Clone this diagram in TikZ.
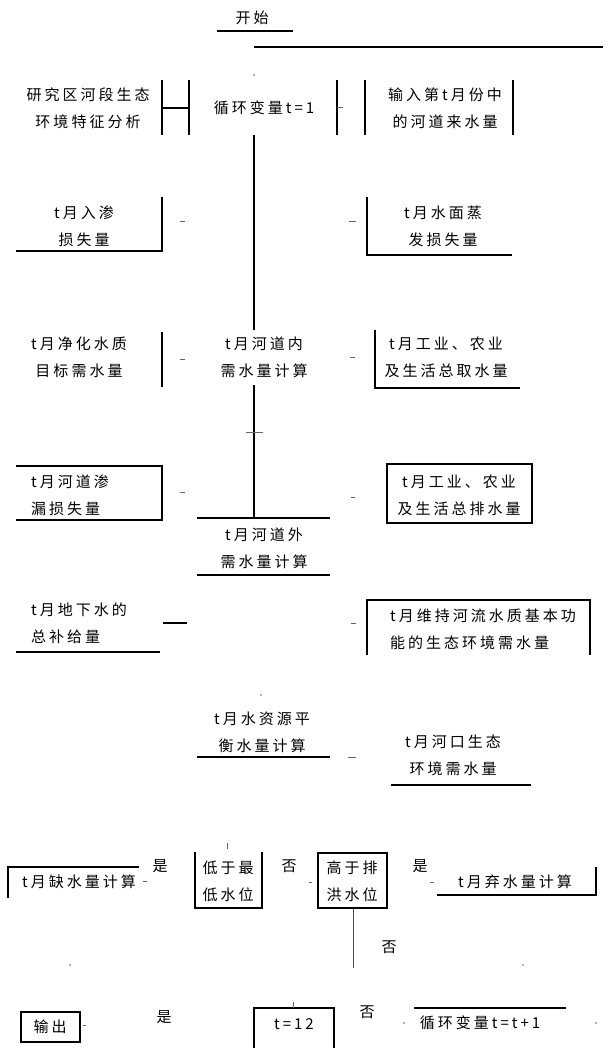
\documentclass[tikz,border=0pt]{standalone}
\usepackage{fontspec}
\setmainfont{Noto Sans CJK SC}
\newfontfamily\cjkfont[LetterSpace=20]{Noto Sans CJK SC}
\begin{document}
\begin{tikzpicture}[x=1pt,y=-1pt,
  txt/.style={inner sep=0pt,align=center,font=\cjkfont\fontsize{15}{27}\selectfont},
  txtl/.style={txt,align=left},
  lbl/.style={inner sep=0pt,font=\cjkfont\fontsize{15}{18}\selectfont},
  edge/.style={line width=1.4pt,black},
  thinline/.style={line width=0.9pt,black!70},
  tick/.style={line width=1pt,black!60}]
\useasboundingbox (0,0) rectangle (612,1048);

% ---------- texts ----------
\node[txt] (start) at (252,18) {开始};
\node[txt] (n1L) at (88,108) {研究区河段生态\\环境特征分析};
\node[txt] (n1C) at (264,108) {循环变量t=1};
\node[txt] (n1R) at (445,108) {输入第t月份中\\的河道来水量};
\node[txt] (n2L) at (84,226) {t月入渗\\损失量};
\node[txt] (n2R) at (443,226) {t月水面蒸\\发损失量};
\node[txt] (n3L) at (79,357) {t月净化水质\\目标需水量};
\node[txt] (n3C) at (264,357) {t月河道内\\需水量计算};
\node[txt] (n3R) at (446,357) {t月工业、农业\\及生活总取水量};
\node[txtl,anchor=west] (n4L) at (31,495) {t月河道渗\\漏损失量};
\node[txt] (n4C) at (264,548) {t月河道外\\需水量计算};
\node[txt] (n4R) at (459,495) {t月工业、农业\\及生活总排水量};
\node[txtl,anchor=west] (n5L) at (31,623) {t月地下水的\\总补给量};
\node[txtl,anchor=west] (n5R) at (390,629) {t月维持河流水质基本功\\能的生态环境需水量};
\node[txt] (n6C) at (262,732) {t月水资源平\\衡水量计算};
\node[txt] (n6R) at (453,755) {t月河口生态\\环境需水量};
\node[txt] (n7a) at (79,882) {t月缺水量计算};
\node[lbl] (yes1) at (160,866) {是};
\node[txt] (n7b) at (228,881) {低于最\\低水位};
\node[lbl] (no1) at (289,866) {否};
\node[txt] (n7c) at (352,881) {高于排\\洪水位};
\node[lbl] (yes2) at (420,866) {是};
\node[txt] (n7d) at (515,882) {t月弃水量计算};
\node[lbl] (no2) at (389,947) {否};
\node[txt] (out) at (50,1027) {输出};
\node[lbl] (yes3) at (164,1017) {是};
\node[txt] (n8b) at (294,1024) {t=12};
\node[lbl] (no3) at (367,1012) {否};
\node[txt] (n8c) at (480,1023) {循环变量t=t+1};

% ---------- trunk connectors ----------
\coordinate (t0) at (254,135);
\coordinate (t1) at (254,330);
\coordinate (t2) at (254,385);
\coordinate (t3) at (254,518);
\draw[edge] (t0) -- (t1);
\draw[edge] (t2) -- (t3);
\coordinate (d0) at (353,908);
\coordinate (d1) at (353,968);
\draw[thinline] (d0) -- (d1);

% ---------- top ----------
\draw[edge] (217,31) -- (293,31);
\draw[edge] (254,47) -- (603,47);
\fill[black!60] (254,75) circle (0.8);

% ---------- row 1 ----------
\draw[edge] (162,80) -- (162,135);
\draw[edge] (189,80) -- (189,135);
\draw[edge] (162,108) -- (189,108);
\draw[edge] (337,80) -- (337,135);
\draw[tick] (337,108) -- (343,108);
\draw[edge] (365,80) -- (365,135);
\draw[edge] (513,80) -- (513,135);

% ---------- row 2 ----------
\draw[edge] (16,251) -- (162,251) -- (162,197);
\draw[tick] (180,222) -- (185,222);
\draw[tick] (349,222) -- (356,222);
\draw[edge] (367,197) -- (367,255) -- (512,255);

% ---------- row 3 ----------
\draw[edge] (162,332) -- (162,387);
\draw[tick] (180,359) -- (185,359);
\draw[tick] (350,357) -- (355,357);
\draw[edge] (375,330) -- (375,388) -- (520,388);
\draw[tick] (246,432) -- (263,432);

% ---------- row 4 ----------
\draw[edge] (16,466) -- (162,466) -- (162,520) -- (16,520);
\draw[tick] (180,492) -- (185,492);
\draw[edge] (197,518) -- (330,518);
\draw[edge] (197,575) -- (330,575);
\draw[tick] (351,497) -- (355,497);
\draw[edge] (387,464) rectangle (532,523);

% ---------- row 5 ----------
\draw[edge] (16,652) -- (160,652);
\draw[edge] (163,623) -- (187,623);
\draw[tick] (351,623) -- (356,623);
\draw[edge] (367,655) -- (367,600) -- (590,600) -- (590,655);

% ---------- row 6 ----------
\fill[black!60] (261,695) circle (0.9);
\draw[edge] (197,757) -- (330,757);
\draw[tick] (348,757) -- (356,757);
\draw[edge] (391,785) -- (531,785);

% ---------- row 7 ----------
\draw[edge] (8,898) -- (8,867) -- (139,867);
\draw[tick] (143,881) -- (147,881);
\draw[edge] (195,852) -- (195,908) -- (262,908) -- (262,852);
\draw[tick] (227,843) -- (227,849);
\draw[tick] (309,882) -- (312,882);
\draw[edge] (318,853) rectangle (387,908);
\draw[tick] (430,882) -- (434,882);
\draw[edge] (437,895) -- (596,895) -- (596,867);

% ---------- row 8 ----------
\fill[black!60] (70,965) circle (0.9);
\fill[black!60] (523,965) circle (0.9);
\draw[edge] (21,1012) rectangle (80,1042);
\draw[tick] (83,1025) -- (86,1025);
\draw[edge] (254,1048) -- (254,1008) -- (334,1008) -- (334,1048);
\draw[tick] (293,1002) -- (293,1008);
\draw[edge] (414,1008) -- (566,1008);
\fill[black!60] (404,1023) circle (0.9);
\fill[black!60] (596,1023) circle (0.9);
\end{tikzpicture}
\end{document}
